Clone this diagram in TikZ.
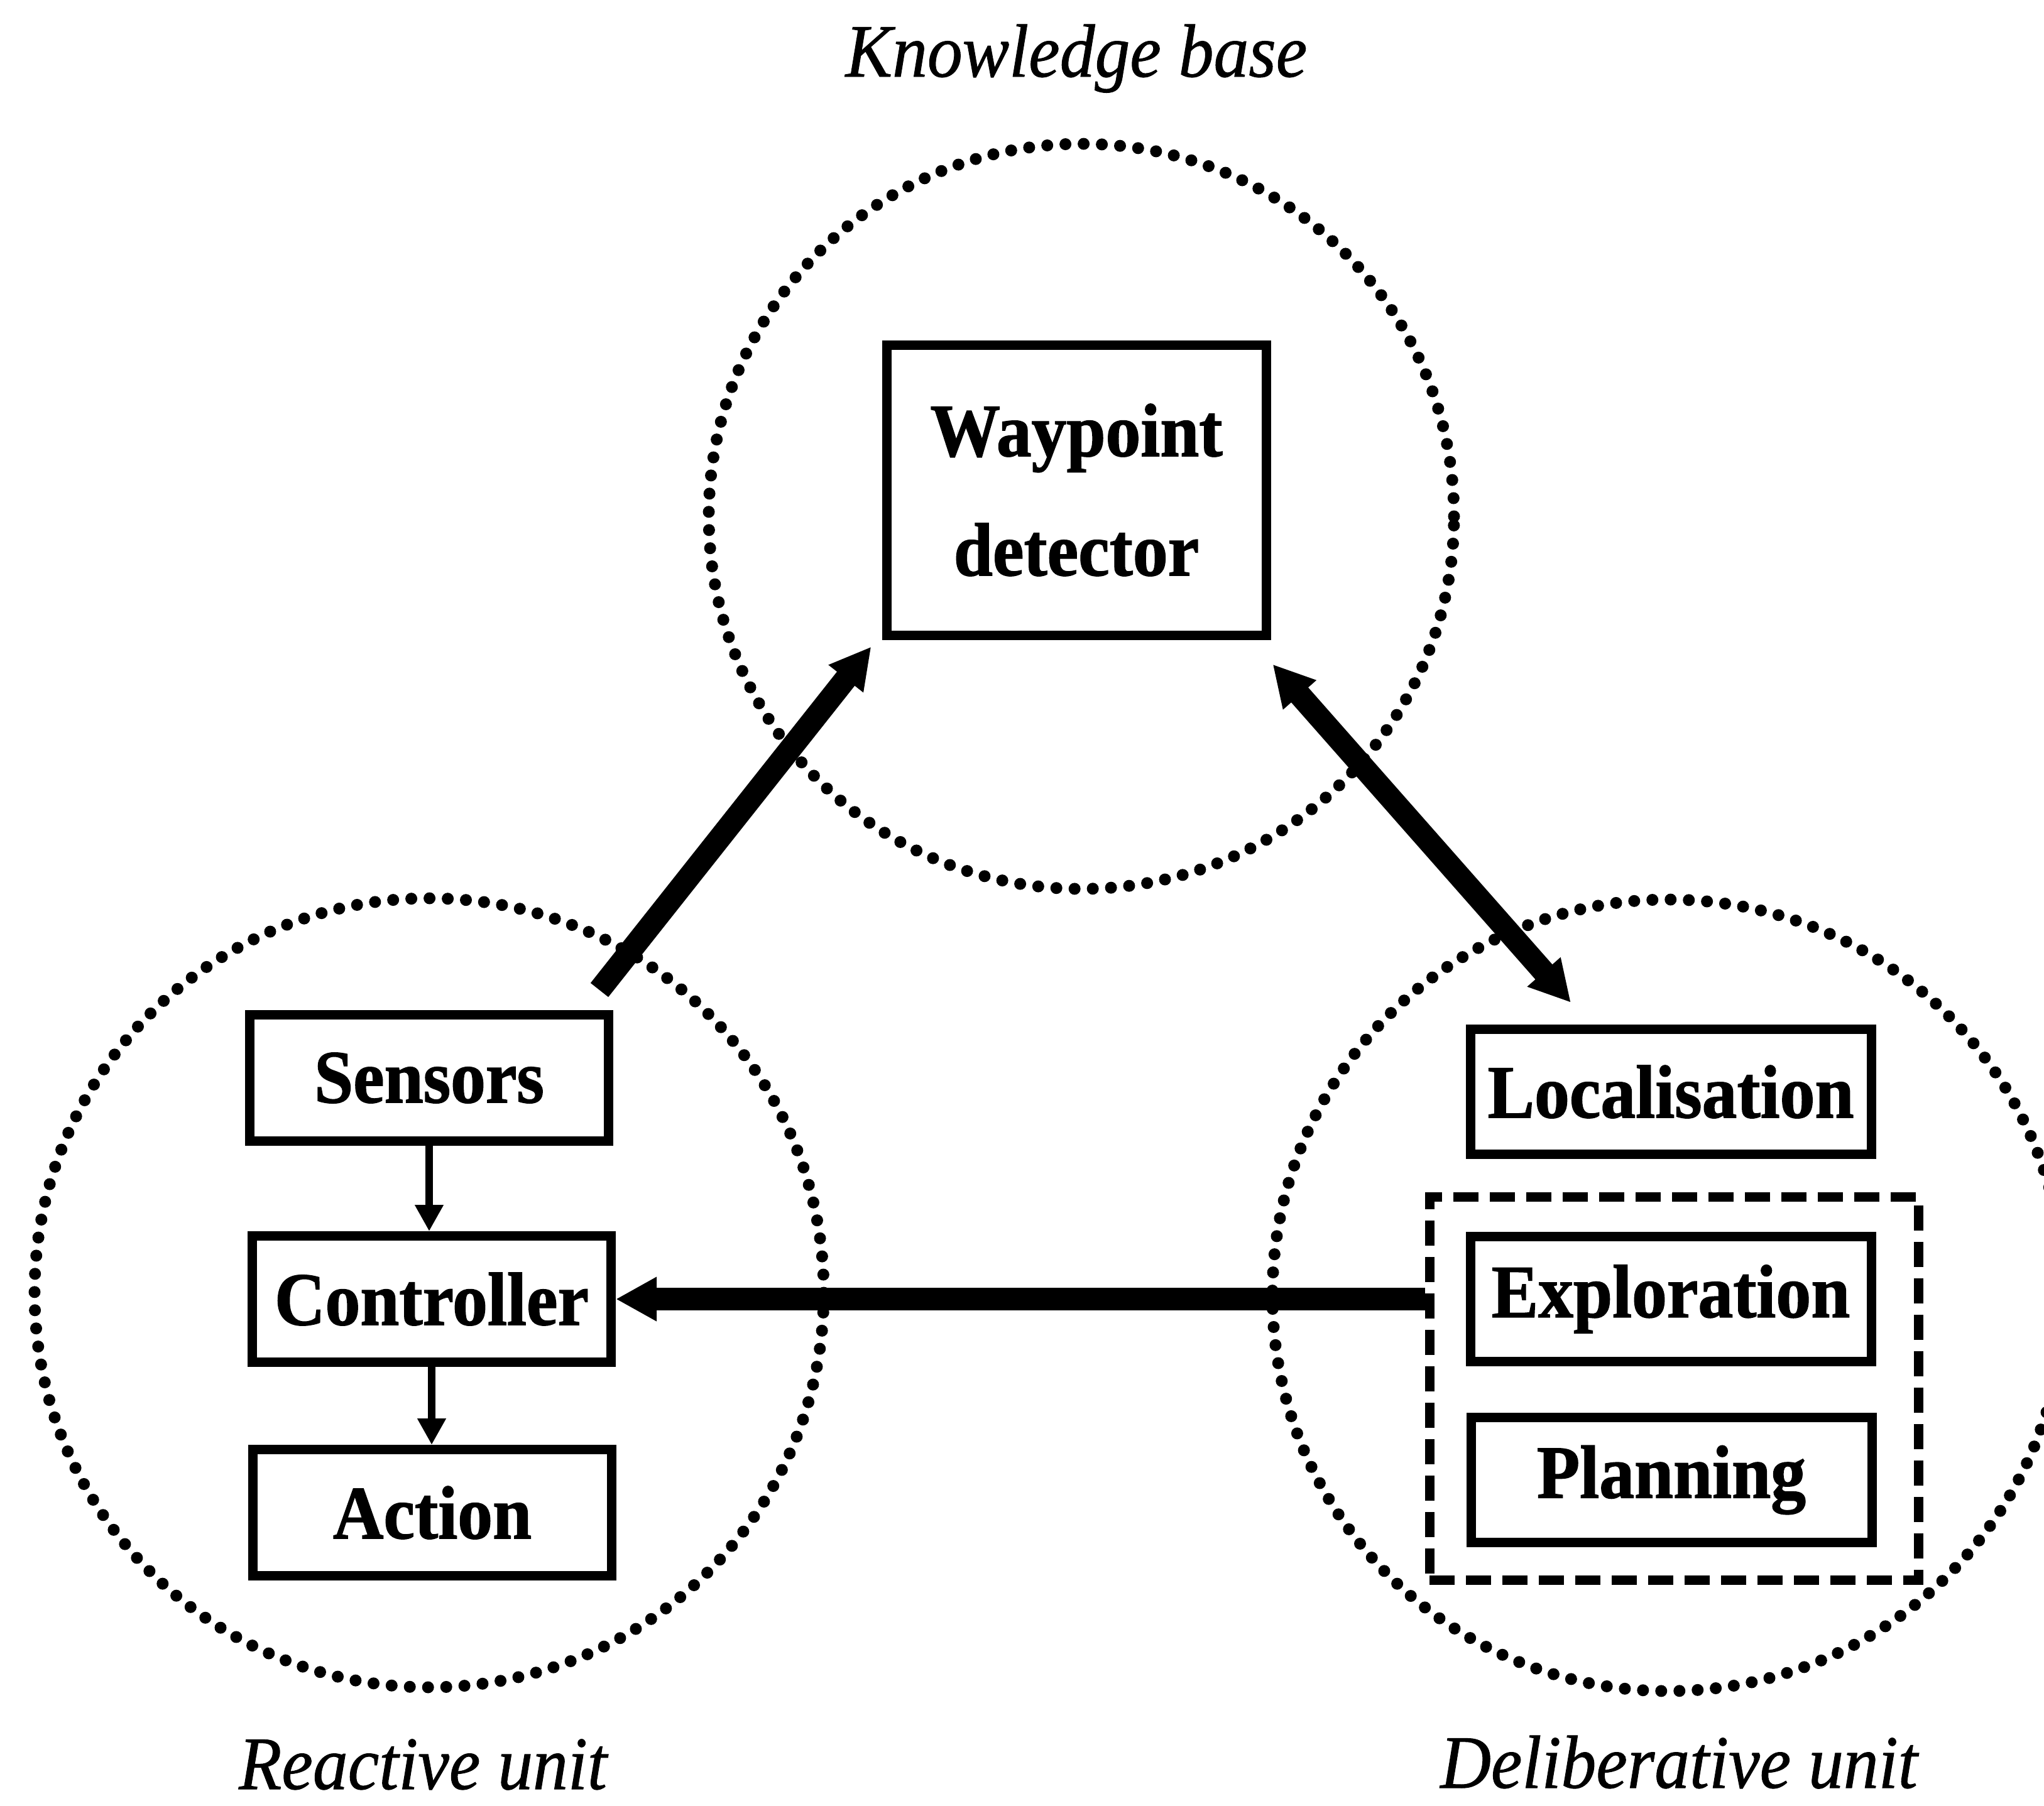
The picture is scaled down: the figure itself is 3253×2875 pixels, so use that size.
\documentclass[tikz,border=0pt]{standalone}
\usepackage{fontspec}
\setmainfont{Liberation Serif}[FakeStretch=0.93, BoldFeatures={FakeBold=1.2}, ItalicFeatures={FakeBold=0.8}]
\usetikzlibrary{arrows.meta,calc}
\newcommand\bigsize{\fontsize{120pt}{190pt}\selectfont}
\begin{document}
\begin{tikzpicture}[x=1pt,y=-1pt,
  box/.style={draw, line width=15pt, inner sep=0pt, align=center, font=\bigsize\bfseries},
  lbox/.style={box, minimum width=571pt, minimum height=201pt},
  rbox/.style={box, minimum width=638pt, minimum height=199pt},
  dotcirc/.style={circle, draw, line width=19pt, dash pattern=on 0pt off 29pt, line cap=round, inner sep=0pt},
  dashbox/.style={draw, line width=15pt, dash pattern=on 40pt off 18pt, inner sep=0pt},
  bigarrow/.style={line width=36pt, -{Triangle[length=65pt,width=66pt]}},
  bigboth/.style={line width=36pt, {Triangle[length=65pt,width=66pt]}-{Triangle[length=65pt,width=66pt]}},
  smallarrow/.style={line width=12pt, -{Triangle[length=42pt,width=43pt]}},
  lab/.style={font=\bigsize\itshape, anchor=base, inner sep=0pt}]
\fill[white] (0,0) rectangle (3253,2875);
\useasboundingbox (0,0) rectangle (3253,2875);
\clip (0,0) rectangle (3253,2875);

% dotted circles
\node[dotcirc, minimum size=1186pt] (kbcirc) at (1721,822) {};
\node[dotcirc, minimum size=1256pt] (rucirc) at (683,2058) {};
\node[dotcirc, minimum size=1260pt] (ducirc) at (2655,2062) {};

% boxes
\node[box, minimum width=604pt, minimum height=462pt] (wp) at (1713,780) {Waypoint\\detector};
\node[lbox] (sensors) at (683,1716) {Sensors};
\node[lbox] (controller) at (687,2068) {Controller};
\node[lbox] (action) at (688,2408) {Action};
\node[rbox] (loc) at (2659,1738) {Localisation};
\node[rbox] (expl) at (2659,2068) {Exploration};
\node[rbox] (plan) at (2660,2356) {Planning};
\node[dashbox, minimum width=778pt, minimum height=610pt] (dbox) at (2664,2210) {};

% labels
\node[lab] (kb) at (1713,122) {Knowledge base};
\node[lab] (ru) at (673,2848) {Reactive unit};
\node[lab] (du) at (2672,2846) {Deliberative unit};

% connectors
\coordinate (a1s) at ([shift={(-22,-32)}]sensors.north east);
\coordinate (a1e) at ([shift={(-17,11)}]wp.south west);
\coordinate (a2s) at ([shift={(3,39)}]wp.south east);
\coordinate (a2e) at ([shift={(-159,-35)}]loc.north);
\draw[bigarrow] (a1s) -- (a1e);
\draw[bigboth] (a2s) -- (a2e);
\draw[bigarrow] (dbox.west |- expl.west) -- (controller.east);
\draw[smallarrow] (sensors.south) -- (sensors.south |- controller.north);
\draw[smallarrow] (controller.south) -- (controller.south |- action.north);
\end{tikzpicture}
\end{document}
